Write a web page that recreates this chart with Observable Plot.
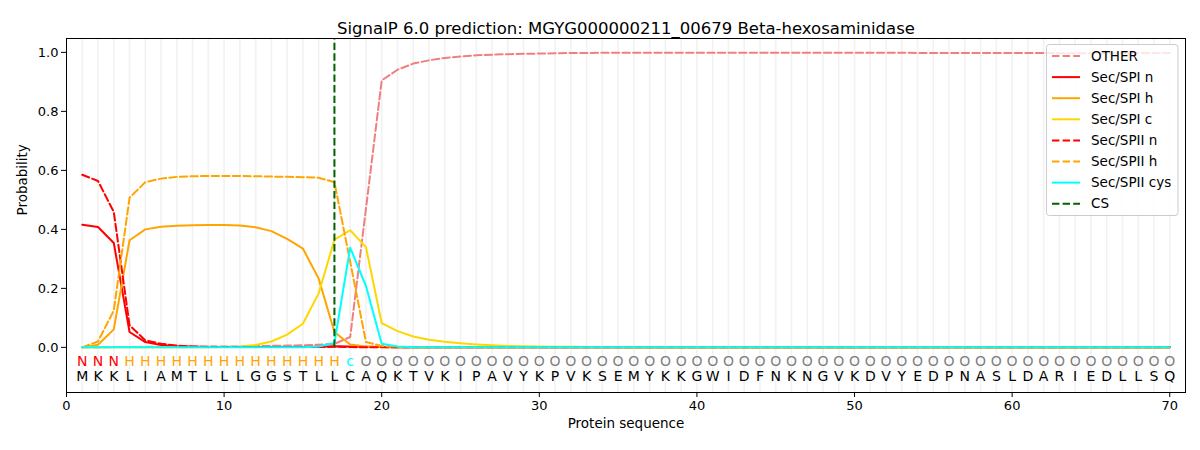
<!DOCTYPE html>
<html>
<head>
<meta charset="utf-8">
<script src="https://cdn.jsdelivr.net/npm/d3@7"></script>
<script src="https://cdn.jsdelivr.net/npm/@observablehq/plot@0.6"></script>
<style>
  html, body { margin: 0; padding: 0; background: #fff; }
  #chart svg { font-family: "DejaVu Sans", sans-serif; }
</style>
</head>
<body>
<div id="chart"></div>
<script>
const title = "SignalP 6.0 prediction: MGYG000000211_00679 Beta-hexosaminidase";
const positions = [1,2,3,4,5,6,7,8,9,10,11,12,13,14,15,16,17,18,19,20,21,22,23,24,25,26,27,28,29,30,31,32,33,34,35,36,37,38,39,40,41,42,43,44,45,46,47,48,49,50,51,52,53,54,55,56,57,58,59,60,61,62,63,64,65,66,67,68,69,70];
const sequence = "MKKLIAMTLLLGGSTLLCAQKTVKIPAVYKPVKSEMYKKGWIDFNKNGVKDVYEDPNASLDARIEDLLSQ".split("");
const regionLabels = "NNNHHHHHHHHHHHHHHcOOOOOOOOOOOOOOOOOOOOOOOOOOOOOOOOOOOOOOOOOOOOOOOOOOOO".split("");
const cleavageSite = 17;
const xTicks = [0,10,20,30,40,50,60,70];
const yTicks = [0.0,0.2,0.4,0.6,0.8,1.0];

const other = [0.000,0.000,0.001,0.001,0.002,0.002,0.002,0.002,0.002,0.003,
  0.003,0.004,0.005,0.006,0.007,0.009,0.012,0.035,0.470,0.905,
  0.941,0.962,0.973,0.981,0.986,0.990,0.992,0.994,0.995,0.996,
  0.997,0.998,0.998,0.999,0.999,0.999,0.999,0.999,0.999,0.999,
  0.999,0.999,0.999,0.999,0.999,0.999,0.999,0.999,0.999,0.999,
  0.999,0.999,0.999,0.998,0.998,0.998,0.998,0.998,0.998,0.998,
  0.998,0.998,0.997,0.997,0.997,0.997,0.997,0.998,0.998,0.998];
const spiN = [0.416,0.408,0.354,0.052,0.018,0.008,0.004,0.002,0.001,0.001,
  0.001,0.001,0.001,0.001,0.001,0.002,0.004,0.003,0.002,0.001,
  0,0,0,0,0,0,0,0,0,0, 0,0,0,0,0,0,0,0,0,0, 0,0,0,0,0,0,0,0,0,0,
  0,0,0,0,0,0,0,0,0,0, 0,0,0,0,0,0,0,0,0,0];
const spiH = [0.000,0.009,0.061,0.363,0.400,0.409,0.412,0.414,0.415,0.415,
  0.413,0.407,0.394,0.368,0.335,0.233,0.052,0.010,0.003,0.001,
  0,0,0,0,0,0,0,0,0,0, 0,0,0,0,0,0,0,0,0,0, 0,0,0,0,0,0,0,0,0,0,
  0,0,0,0,0,0,0,0,0,0, 0,0,0,0,0,0,0,0,0,0];
const spiC = [0,0,0,0,0,0,0,0,0,0.001,
  0.003,0.008,0.020,0.043,0.080,0.183,0.365,0.397,0.340,0.082,
  0.055,0.037,0.026,0.019,0.014,0.010,0.007,0.005,0.004,0.003,
  0.002,0.002,0.001,0.001,0.001,0,0,0,0,0, 0,0,0,0,0,0,0,0,0,0,
  0,0,0,0,0,0,0,0,0,0, 0,0,0,0,0,0,0,0,0,0];
const spiiN = [0.585,0.564,0.459,0.075,0.024,0.012,0.006,0.003,0.002,0.001,
  0.001,0.001,0.001,0.001,0.001,0.001,0.002,0.001,0,0,
  0,0,0,0,0,0,0,0,0,0, 0,0,0,0,0,0,0,0,0,0, 0,0,0,0,0,0,0,0,0,0,
  0,0,0,0,0,0,0,0,0,0, 0,0,0,0,0,0,0,0,0,0];
const spiiH = [0.000,0.020,0.125,0.507,0.560,0.572,0.578,0.580,0.581,0.581,
  0.581,0.580,0.579,0.578,0.577,0.575,0.560,0.290,0.018,0.005,
  0.002,0.001,0,0,0,0,0,0,0,0, 0,0,0,0,0,0,0,0,0,0, 0,0,0,0,0,0,0,0,0,0,
  0,0,0,0,0,0,0,0,0,0, 0,0,0,0,0,0,0,0,0,0];
const spiiCys = [0,0,0,0,0,0,0,0,0,0,
  0,0,0,0,0,0.003,0.015,0.338,0.208,0.012,
  0.003,0,0,0,0,0,0,0,0,0, 0,0,0,0,0,0,0,0,0,0, 0,0,0,0,0,0,0,0,0,0,
  0,0,0,0,0,0,0,0,0,0, 0,0,0,0,0,0,0,0,0,0];

const seriesDefs = [
  {name: "OTHER", values: other, color: "#f08080", dash: "7.4,3.2"},
  {name: "Sec/SPI n", values: spiN, color: "red", dash: null},
  {name: "Sec/SPI h", values: spiH, color: "orange", dash: null},
  {name: "Sec/SPI c", values: spiC, color: "gold", dash: null},
  {name: "Sec/SPII n", values: spiiN, color: "red", dash: "7.4,3.2"},
  {name: "Sec/SPII h", values: spiiH, color: "orange", dash: "7.4,3.2"},
  {name: "Sec/SPII cys", values: spiiCys, color: "cyan", dash: null}
];
const labelColors = {N: "red", H: "orange", c: "cyan", O: "gray"};

const yMin = -0.153, yMax = 1.047;

const lineMarks = seriesDefs.map(s =>
  Plot.line(positions.map((p, i) => ({x: p, y: s.values[i]})), {
    x: "x", y: "y", stroke: s.color, strokeWidth: 2,
    strokeDasharray: s.dash || undefined
  })
);

const seqData = positions.map((p, i) => ({x: p, aa: sequence[i], lab: regionLabels[i]}));

const chart = Plot.plot({
  width: 1200,
  height: 450,
  marginLeft: 66,
  marginRight: 15,
  marginTop: 38,
  marginBottom: 58,
  style: {fontFamily: "DejaVu Sans, sans-serif", fontSize: "13px", color: "black", background: "white"},
  x: {domain: [0, 71], ticks: xTicks, tickSize: 5, tickPadding: 3, label: null},
  y: {domain: [yMin, yMax], ticks: yTicks, tickFormat: d3.format(".1f"), tickSize: 5, tickPadding: 3, label: null},
  marks: [
    Plot.ruleX(positions, {x: d => d, stroke: "#f2f2f2", strokeWidth: 1.6}),
    ...lineMarks,
    Plot.ruleX([cleavageSite], {x: d => d, y1: 0, y2: yMax, stroke: "darkgreen", strokeWidth: 2, strokeDasharray: "7.4,3.2"}),
    Plot.text(seqData, {x: "x", y: -0.047, text: "lab", fill: d => labelColors[d.lab], fontSize: 14}),
    Plot.text(seqData, {x: "x", y: -0.1, text: "aa", fill: "black", fontSize: 14}),
    Plot.text([title], {frameAnchor: "top", dy: -16, fontSize: 16.5, fill: "black"}),
    Plot.text(["Protein sequence"], {frameAnchor: "bottom", dy: 35, fontSize: 13.5, fill: "black"}),
    Plot.text(["Probability"], {frameAnchor: "left", dx: -44, rotate: -90, fontSize: 13.5, fill: "black"}),
    Plot.frame({stroke: "black", strokeWidth: 1})
  ]
});

document.getElementById("chart").appendChild(chart);

// Legend (inside plot, upper right)
const svg = d3.select(chart.tagName.toLowerCase() === "svg" ? chart : chart.querySelector("svg"));
const legendItems = seriesDefs.map(s => ({name: s.name, color: s.color, dash: s.dash}))
  .concat([{name: "CS", color: "darkgreen", dash: "7.4,3.2"}]);
const lg = svg.append("g").attr("transform", "translate(1046.5,44.5)");
lg.append("rect").attr("width", 131.5).attr("height", 171).attr("rx", 3)
  .attr("fill", "white").attr("fill-opacity", 0.8).attr("stroke", "#cccccc").attr("stroke-width", 1);
legendItems.forEach((d, i) => {
  const yy = 11.5 + i * 21.1;
  lg.append("line").attr("x1", 5.5).attr("x2", 33.5).attr("y1", yy).attr("y2", yy)
    .attr("stroke", d.color).attr("stroke-width", 2)
    .attr("stroke-dasharray", d.dash || null);
  lg.append("text").attr("x", 44.5).attr("y", yy).attr("dy", "0.35em")
    .attr("text-anchor", "start")
    .attr("font-size", 13.5).attr("fill", "black").attr("font-family", "DejaVu Sans, sans-serif")
    .text(d.name);
});
</script>
</body>
</html>
